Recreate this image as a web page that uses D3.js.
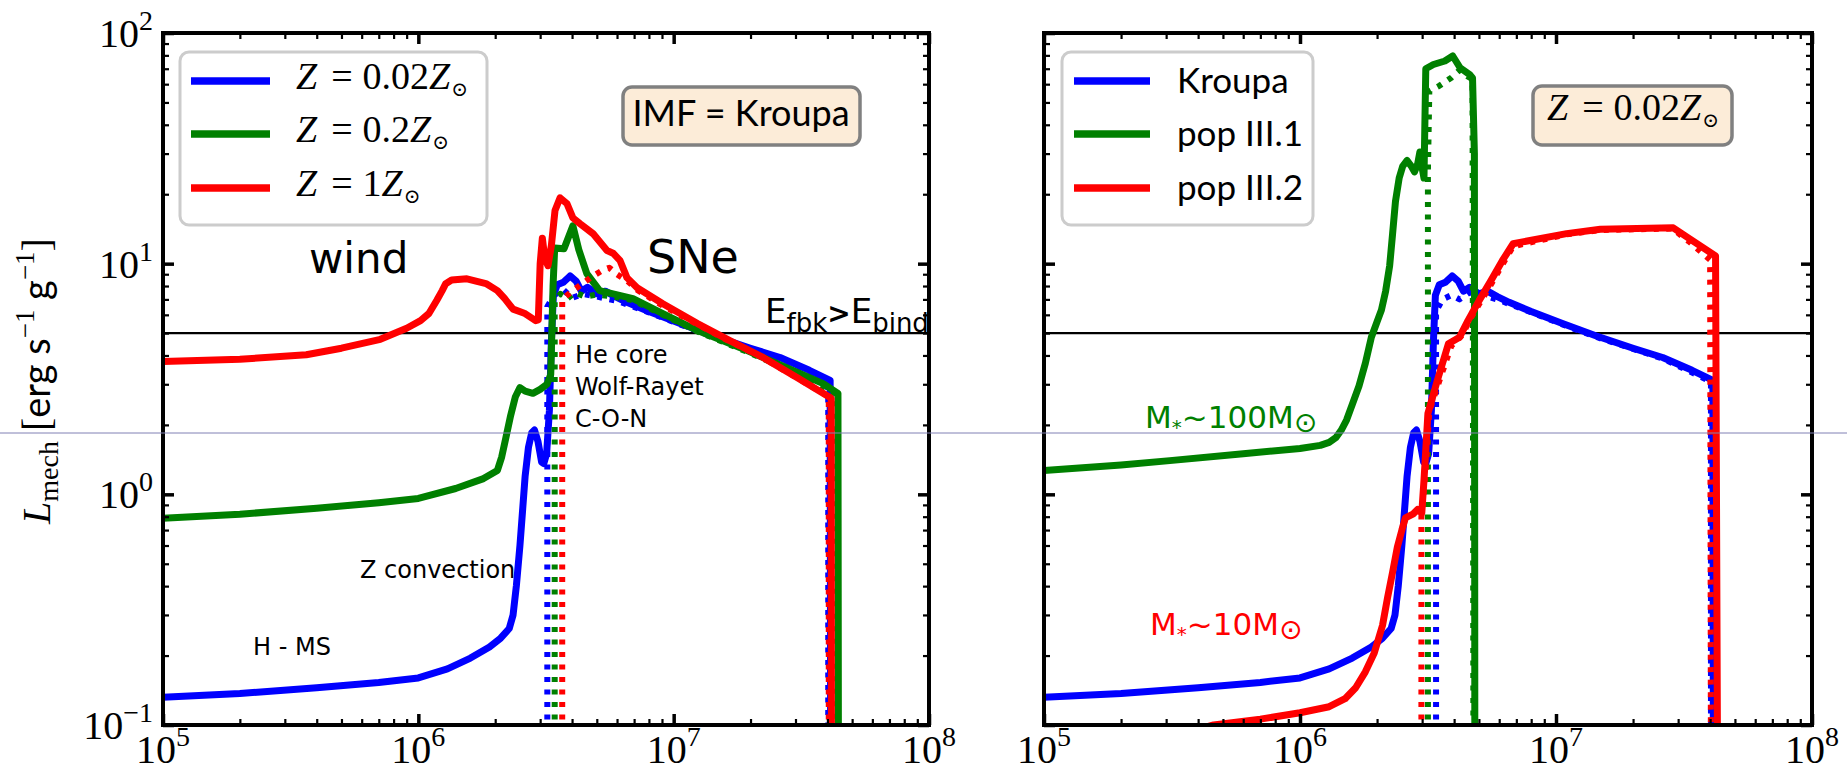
<!DOCTYPE html>
<html>
<head>
<meta charset="utf-8">
<script src="https://cdn.jsdelivr.net/npm/d3@7"></script>
<style>
  html, body { margin: 0; padding: 0; background: #fff; }
  svg { display: block; }
</style>
</head>
<body>
<script>
// ---- data: mechanical luminosity per unit mass vs. time [yr] ----
const xDecades = [1e5, 1e6, 1e7, 1e8];
const yDecades = [0.1, 1, 10, 100];
const xExponents = ["5", "6", "7", "8"];
const yExponents = ["\u22121", "0", "1", "2"];
const bindingThreshold = 5;

const metallicityLabels = ["0.02", "0.2", "1"];
const imfLabels = ["Kroupa", "pop III.1", "pop III.2"];

// Kroupa IMF, Z = 0.02 Zsun (solid)
const kroupaZ002 = [
  [1e5, 0.132], [2e5, 0.137], [4e5, 0.145], [7e5, 0.153], [1e6, 0.16],
  [1.3e6, 0.175], [1.6e6, 0.195], [1.9e6, 0.218], [2.1e6, 0.238], [2.27e6, 0.262],
  [2.35e6, 0.3], [2.42e6, 0.4], [2.5e6, 0.6], [2.56e6, 0.85], [2.62e6, 1.2],
  [2.7e6, 1.6], [2.78e6, 1.85], [2.85e6, 1.9], [2.94e6, 1.7], [3.04e6, 1.38],
  [3.1e6, 1.36], [3.18e6, 1.5], [3.26e6, 2.3], [3.32e6, 4.6], [3.38e6, 7.3],
  [3.5e6, 8.1], [3.7e6, 8.3], [3.93e6, 8.85], [4.15e6, 8.4], [4.35e6, 7.6],
  [4.6e6, 7.9], [5.0e6, 7.4], [5.4e6, 7.6], [5.9e6, 7.2], [6.56e6, 6.8],
  [8e6, 6.2], [1.06e7, 5.5], [1.43e7, 4.87], [2e7, 4.3], [2.61e7, 3.92],
  [3.4e7, 3.45], [4.1e7, 3.12], [4.12e7, 0.05]
];
// Kroupa IMF, Z = 0.02 Zsun (dotted), left panel
const kroupaZ002DotL = [
  [3.2e6, 0.05], [3.2e6, 6.5], [3.4e6, 7.3], [3.7e6, 7.7], [4.0e6, 7.1],
  [4.4e6, 7.4], [5e6, 7.2], [6e6, 6.9], [8e6, 6.15], [1.06e7, 5.45],
  [1.43e7, 4.82], [2.61e7, 3.88], [4.03e7, 3.08], [4.03e7, 0.05]
];
// Kroupa IMF, Z = 0.02 Zsun (dotted), right panel
const kroupaZ002DotR = [
  [3.4e6, 0.05], [3.4e6, 6.2], [3.6e6, 7.0], [3.9e6, 7.3], [4.2e6, 7.0],
  [4.6e6, 7.5], [5.2e6, 7.3], [6e6, 6.95], [8e6, 6.15], [1.06e7, 5.45],
  [1.43e7, 4.82], [2.61e7, 3.88], [4.03e7, 3.08], [4.03e7, 0.05]
];
// Kroupa IMF, Z = 0.2 Zsun
const kroupaZ02 = [
  [1e5, 0.787], [2e5, 0.82], [4e5, 0.87], [7e5, 0.92], [1e6, 0.96],
  [1.4e6, 1.06], [1.8e6, 1.17], [2.04e6, 1.27], [2.12e6, 1.45], [2.2e6, 1.75],
  [2.3e6, 2.2], [2.4e6, 2.65], [2.5e6, 2.9], [2.62e6, 2.8], [2.81e6, 2.74],
  [3.0e6, 2.85], [3.19e6, 3.0], [3.3e6, 3.3], [3.37e6, 8], [3.42e6, 11.7],
  [3.72e6, 11.6], [4.03e6, 14.6], [4.25e6, 11.5], [4.57e6, 9.05], [5.13e6, 7.64],
  [5.79e6, 7.4], [6.93e6, 7.05], [9.07e6, 6.08], [1.24e7, 5.13], [1.94e7, 4.2],
  [3.04e7, 3.38], [3.85e7, 3.02], [4.4e7, 2.74], [4.42e7, 0.05]
];
const kroupaZ02Dot = [
  [3.42e6, 0.05], [3.42e6, 6.8], [3.6e6, 7.4], [3.8e6, 7.0], [4.1e6, 7.5],
  [4.5e6, 7.2], [5.0e6, 7.35], [5.8e6, 7.2], [6.9e6, 6.95], [9.07e6, 6.0],
  [1.24e7, 5.08], [1.94e7, 4.15], [3.04e7, 3.35], [4.35e7, 2.72], [4.35e7, 0.05]
];
// Kroupa IMF, Z = 1 Zsun
const kroupaZ1 = [
  [1e5, 3.77], [2e5, 3.85], [3.64e5, 4.03], [5e5, 4.3], [7.1e5, 4.7],
  [9e5, 5.25], [1.02e6, 5.66], [1.1e6, 6.08], [1.18e6, 6.92], [1.24e6, 7.64],
  [1.28e6, 8.19], [1.35e6, 8.5], [1.55e6, 8.6], [1.84e6, 8.2], [2.04e6, 7.64],
  [2.18e6, 7.05], [2.35e6, 6.35], [2.6e6, 6.1], [2.88e6, 5.66], [2.95e6, 5.7],
  [3.0e6, 10], [3.06e6, 12.9], [3.13e6, 10.5], [3.22e6, 9.8], [3.32e6, 12],
  [3.43e6, 17], [3.59e6, 19.3], [3.82e6, 18.2], [4.03e6, 15.8], [4.3e6, 14.9],
  [4.83e6, 13.5], [5.48e6, 11.4], [5.79e6, 11.1], [6.17e6, 10.3], [6.56e6, 8.7],
  [7.19e6, 7.87], [9.07e6, 6.7], [1.24e7, 5.5], [1.66e7, 4.64], [2.24e7, 3.92],
  [3.04e7, 3.21], [4.1e7, 2.63], [4.14e7, 2.6], [4.15e7, 0.05]
];
const kroupaZ1Dot = [
  [3.66e6, 0.05], [3.66e6, 7.0], [4.0e6, 7.6], [4.4e6, 8.2], [4.8e6, 8.8],
  [5.3e6, 9.4], [5.6e6, 9.6], [6.0e6, 9.0], [6.6e6, 8.4], [7.2e6, 7.7],
  [9e6, 6.6], [1.24e7, 5.45], [1.66e7, 4.6], [2.24e7, 3.9], [3.04e7, 3.2],
  [4.05e7, 2.65], [4.05e7, 0.05]
];
// pop III.1 IMF, Z = 0.02 Zsun
const popIII1 = [
  [1e5, 1.27], [2e5, 1.34], [3.1e5, 1.4], [6e5, 1.5], [1e6, 1.58],
  [1.2e6, 1.63], [1.3e6, 1.68], [1.38e6, 1.76], [1.45e6, 1.9], [1.52e6, 2.1],
  [1.6e6, 2.45], [1.7e6, 2.95], [1.8e6, 3.7], [1.9e6, 4.8], [2.0e6, 5.6],
  [2.08e6, 6.3], [2.16e6, 7.6], [2.24e6, 9.8], [2.3e6, 13.5], [2.36e6, 18.6],
  [2.44e6, 23.5], [2.52e6, 26.5], [2.62e6, 28], [2.72e6, 26.5], [2.8e6, 25],
  [2.88e6, 27], [2.94e6, 30.5], [3.0e6, 26], [3.05e6, 23.5], [3.1e6, 70],
  [3.32e6, 73], [3.68e6, 75.6], [3.95e6, 79.5], [4.22e6, 70.7], [4.6e6, 66],
  [4.72e6, 63.8], [4.8e6, 30], [4.82e6, 0.05]
];
const popIII1Dot = [
  [3.16e6, 0.05], [3.16e6, 25], [3.2e6, 56], [3.5e6, 59], [3.9e6, 64],
  [4.2e6, 69], [4.5e6, 65], [4.72e6, 63], [4.76e6, 0.05]
];
// pop III.2 IMF, Z = 0.02 Zsun
const popIII2 = [
  [3e5, 0.088], [4.6e5, 0.1], [7e5, 0.106], [1e6, 0.113], [1.3e6, 0.12],
  [1.5e6, 0.13], [1.65e6, 0.145], [1.8e6, 0.17], [1.95e6, 0.205], [2.1e6, 0.27],
  [2.2e6, 0.358], [2.3e6, 0.46], [2.4e6, 0.59], [2.5e6, 0.7], [2.58e6, 0.79],
  [2.76e6, 0.82], [2.88e6, 0.86], [2.99e6, 0.83], [3.05e6, 1.15], [3.16e6, 2.24],
  [3.44e6, 3.12], [3.8e6, 4.5], [4.2e6, 4.8], [4.53e6, 5.66], [5.0e6, 6.9],
  [5.57e6, 8.44], [6.17e6, 10.3], [6.8e6, 12.2], [1.1e7, 13.5], [1.49e7, 14.1],
  [2.87e7, 14.3], [3.33e7, 12.8], [4.2e7, 10.8], [4.28e7, 0.05]
];
const popIII2Dot = [
  [2.98e6, 0.05], [2.98e6, 0.8], [3.1e6, 1.3], [3.2e6, 2.3], [3.5e6, 3.1],
  [3.9e6, 4.4], [4.3e6, 4.9], [4.6e6, 5.7], [5.1e6, 6.9], [5.6e6, 8.2],
  [6.2e6, 10], [6.8e6, 11.9], [1.1e7, 13.4], [1.5e7, 14.0], [2.85e7, 14.2],
  [3.3e7, 12.5], [4.0e7, 10.4], [4.03e7, 0.05]
];

const BLUE = "#0000ff", GREEN = "#008000", RED = "#ff0000";
const SERIF = "'Liberation Serif', 'DejaVu Serif', serif";
const SANS = "Lato, 'DejaVu Sans', sans-serif";
const HAND = "'DejaVu Sans', sans-serif";

const W = 1847, H = 771;
const svg = d3.select("body").append("svg")
  .attr("width", W).attr("height", H)
  .attr("viewBox", `0 0 ${W} ${H}`);
svg.append("rect").attr("width", W).attr("height", H).attr("fill", "#fff");

const y = d3.scaleLog().domain([0.1, 100]).range([725, 33]);
const panels = [
  { id: "left", x: d3.scaleLog().domain([1e5, 1e8]).range([163, 929]) },
  { id: "right", x: d3.scaleLog().domain([1e5, 1e8]).range([1044, 1812]) }
];

function minorsOf(decades) {
  const out = [];
  decades.slice(0, -1).forEach(d => { for (let k = 2; k <= 9; k++) out.push(k * d); });
  return out;
}
const xMinor = minorsOf(xDecades);
const yMinor = minorsOf(yDecades);

function drawFrame(g, x) {
  const [x0, x1] = x.range();
  const [y0, y1] = y.range();
  const specs = [
    { axis: d3.axisBottom, scale: x, t: `translate(0,${y0})`, maj: xDecades, min: xMinor },
    { axis: d3.axisTop, scale: x, t: `translate(0,${y1})`, maj: xDecades, min: xMinor },
    { axis: d3.axisLeft, scale: y, t: `translate(${x0},0)`, maj: yDecades, min: yMinor },
    { axis: d3.axisRight, scale: y, t: `translate(${x1},0)`, maj: yDecades, min: yMinor }
  ];
  specs.forEach(s => {
    const gm = g.append("g").attr("transform", s.t)
      .call(s.axis(s.scale).tickValues(s.min).tickSize(-6).tickFormat(""));
    gm.select(".domain").remove();
    gm.selectAll("line").attr("stroke", "#000").attr("stroke-width", 2.2);
    const gM = g.append("g").attr("transform", s.t)
      .call(s.axis(s.scale).tickValues(s.maj).tickSize(-11).tickFormat(""));
    gM.select(".domain").remove();
    gM.selectAll("line").attr("stroke", "#000").attr("stroke-width", 3.5);
  });
  g.append("rect")
    .attr("x", x0).attr("y", y1).attr("width", x1 - x0).attr("height", y0 - y1)
    .attr("fill", "none").attr("stroke", "#000").attr("stroke-width", 4);
}

function powerLabel(g, px, py, exp, anchor) {
  const t = g.append("text")
    .attr("x", px).attr("y", py)
    .attr("text-anchor", anchor)
    .attr("font-family", SERIF).attr("font-size", 40).attr("fill", "#000");
  t.append("tspan").text("10");
  t.append("tspan").attr("font-size", 28).attr("dy", -17).text(exp);
}

const lineOf = x => d3.line().x(d => x(d[0])).y(d => y(d[1]));

function drawSeries(g, x, data, color, dotted) {
  g.append("path")
    .datum(data)
    .attr("d", lineOf(x))
    .attr("fill", "none")
    .attr("stroke", color)
    .attr("stroke-width", dotted ? 6 : 7)
    .attr("stroke-linejoin", "round")
    .attr("stroke-dasharray", dotted ? "5 7.5" : null);
}

const defs = svg.append("defs");
panels.forEach(p => {
  const [x0, x1] = p.x.range();
  const [y0, y1] = y.range();
  defs.append("clipPath").attr("id", "clip-" + p.id)
    .append("rect").attr("x", x0).attr("y", y1).attr("width", x1 - x0).attr("height", y0 - y1);
  p.g = svg.append("g");
  p.plot = p.g.append("g").attr("clip-path", `url(#clip-${p.id})`);
  p.plot.append("line")
    .attr("x1", x0).attr("x2", x1)
    .attr("y1", y(bindingThreshold)).attr("y2", y(bindingThreshold))
    .attr("stroke", "#000").attr("stroke-width", 2.2);
});

// left panel: Kroupa IMF at three metallicities
const L = panels[0], R = panels[1];
drawSeries(L.plot, L.x, kroupaZ002, BLUE, false);
drawSeries(L.plot, L.x, kroupaZ002DotL, BLUE, true);
drawSeries(L.plot, L.x, kroupaZ02, GREEN, false);
drawSeries(L.plot, L.x, kroupaZ02Dot, GREEN, true);
drawSeries(L.plot, L.x, kroupaZ1, RED, false);
drawSeries(L.plot, L.x, kroupaZ1Dot, RED, true);

// right panel: three IMFs at Z = 0.02 Zsun
drawSeries(R.plot, R.x, kroupaZ002, BLUE, false);
drawSeries(R.plot, R.x, kroupaZ002DotR, BLUE, true);
drawSeries(R.plot, R.x, popIII1, GREEN, false);
drawSeries(R.plot, R.x, popIII1Dot, GREEN, true);
drawSeries(R.plot, R.x, popIII2, RED, false);
drawSeries(R.plot, R.x, popIII2Dot, RED, true);

panels.forEach(p => {
  drawFrame(p.g, p.x);
  xDecades.forEach((v, i) => powerLabel(p.g, p.x(v), 763, xExponents[i], "middle"));
});
yDecades.forEach((v, i) => powerLabel(L.g, 153, y(v) + 14, yExponents[i], "end"));

// y-axis title
const yt = svg.append("text")
  .attr("transform", "translate(50,381) rotate(-90)")
  .attr("text-anchor", "middle")
  .attr("font-family", SERIF).attr("font-size", 40).attr("fill", "#000");
yt.append("tspan").attr("font-style", "italic").text("L");
yt.append("tspan").attr("font-size", 28).attr("dy", 8).text("mech");
yt.append("tspan").attr("dy", -8).text(" [");
yt.append("tspan").attr("font-family", SANS).attr("font-size", 38).text("erg s");
yt.append("tspan").attr("font-size", 27).attr("dy", -16).text("\u22121");
yt.append("tspan").attr("font-family", SANS).attr("font-size", 38).attr("dy", 16).text(" g");
yt.append("tspan").attr("font-size", 27).attr("dy", -16).text("\u22121");
yt.append("tspan").attr("dy", 16).text("]");

// "Z = <value> Z_sun" in math style
function metallicityText(t, value) {
  t.append("tspan").attr("font-style", "italic").text("Z");
  t.append("tspan").attr("dx", 14).text("=");
  t.append("tspan").attr("dx", 10).text(value);
  t.append("tspan").attr("font-style", "italic").text("Z");
  t.append("tspan").attr("font-size", 20).attr("dy", 7).attr("dx", 1).text("\u2299");
}

// legends
function legendBox(g, bx, by, bw, bh) {
  g.append("rect").attr("x", bx).attr("y", by).attr("width", bw).attr("height", bh)
    .attr("rx", 9).attr("fill", "#fff").attr("stroke", "#cccccc").attr("stroke-width", 3);
}
const colors = [BLUE, GREEN, RED];
const rowY = [81, 134, 188];

legendBox(svg, 180, 52, 307, 173);
metallicityLabels.forEach((lab, i) => {
  svg.append("line").attr("x1", 191).attr("x2", 270).attr("y1", rowY[i]).attr("y2", rowY[i])
    .attr("stroke", colors[i]).attr("stroke-width", 7.5);
  const t = svg.append("text").attr("x", 296).attr("y", rowY[i] + 8)
    .attr("font-family", SERIF).attr("font-size", 38).attr("fill", "#000");
  metallicityText(t, lab);
});

legendBox(svg, 1062, 52, 251, 173);
imfLabels.forEach((lab, i) => {
  svg.append("line").attr("x1", 1074).attr("x2", 1150).attr("y1", rowY[i]).attr("y2", rowY[i])
    .attr("stroke", colors[i]).attr("stroke-width", 7.5);
  svg.append("text").attr("x", 1177).attr("y", rowY[i] + 12)
    .attr("font-family", SANS).attr("font-size", 35).attr("fill", "#000").text(lab);
});

// info boxes
function infoBox(bx, by, bw, bh) {
  svg.append("rect").attr("x", bx).attr("y", by).attr("width", bw).attr("height", bh)
    .attr("rx", 9).attr("fill", "#fcecd8").attr("stroke", "#808080").attr("stroke-width", 3.5);
}
infoBox(623, 87, 237, 58);
svg.append("text").attr("x", 741).attr("y", 126).attr("text-anchor", "middle")
  .attr("font-family", SANS).attr("font-size", 36).attr("fill", "#000").text("IMF = Kroupa");

infoBox(1533, 86, 199, 59);
const zt = svg.append("text").attr("x", 1547).attr("y", 120)
  .attr("font-family", SERIF).attr("font-size", 38).attr("fill", "#000");
metallicityText(zt, "0.02");

// annotations
function note(text, px, py, size, color) {
  return svg.append("text").attr("x", px).attr("y", py)
    .attr("font-family", HAND).attr("font-size", size).attr("fill", color || "#000").text(text);
}
note("wind", 309, 273, 42);
note("SNe", 647, 273, 46);
["He core", "Wolf-Rayet", "C-O-N"].forEach((s, i) => note(s, 575, 363 + 32 * i, 24));
note("Z convection", 360, 578, 24);
note("H - MS", 253, 655, 24);

const eb = svg.append("text").attr("x", 765).attr("y", 323)
  .attr("font-family", HAND).attr("font-size", 34).attr("fill", "#000");
eb.append("tspan").text("E");
eb.append("tspan").attr("font-size", 26).attr("dy", 9).text("fbk");
eb.append("tspan").attr("font-weight", "bold").attr("dy", -9).attr("font-size", 28).text(">");
eb.append("tspan").text("E");
eb.append("tspan").attr("font-size", 26).attr("dy", 9).text("bind");

function massNote(num, px, py, color) {
  const t = svg.append("text").attr("x", px).attr("y", py)
    .attr("font-family", HAND).attr("font-size", 31).attr("fill", color);
  t.append("tspan").text("M");
  t.append("tspan").attr("font-size", 20).attr("dy", 6).text("*");
  t.append("tspan").attr("dy", -6).text("~" + num + "M");
  t.append("tspan").attr("font-size", 28).attr("dy", 4).text("\u2299");
}
massNote("100", 1145, 428, GREEN);
massNote("10", 1150, 635, RED);

// thin guide line across the figure
svg.append("line").attr("x1", 0).attr("x2", W).attr("y1", 433).attr("y2", 433)
  .attr("stroke", "#8080b4").attr("stroke-width", 1);
</script>
</body>
</html>
